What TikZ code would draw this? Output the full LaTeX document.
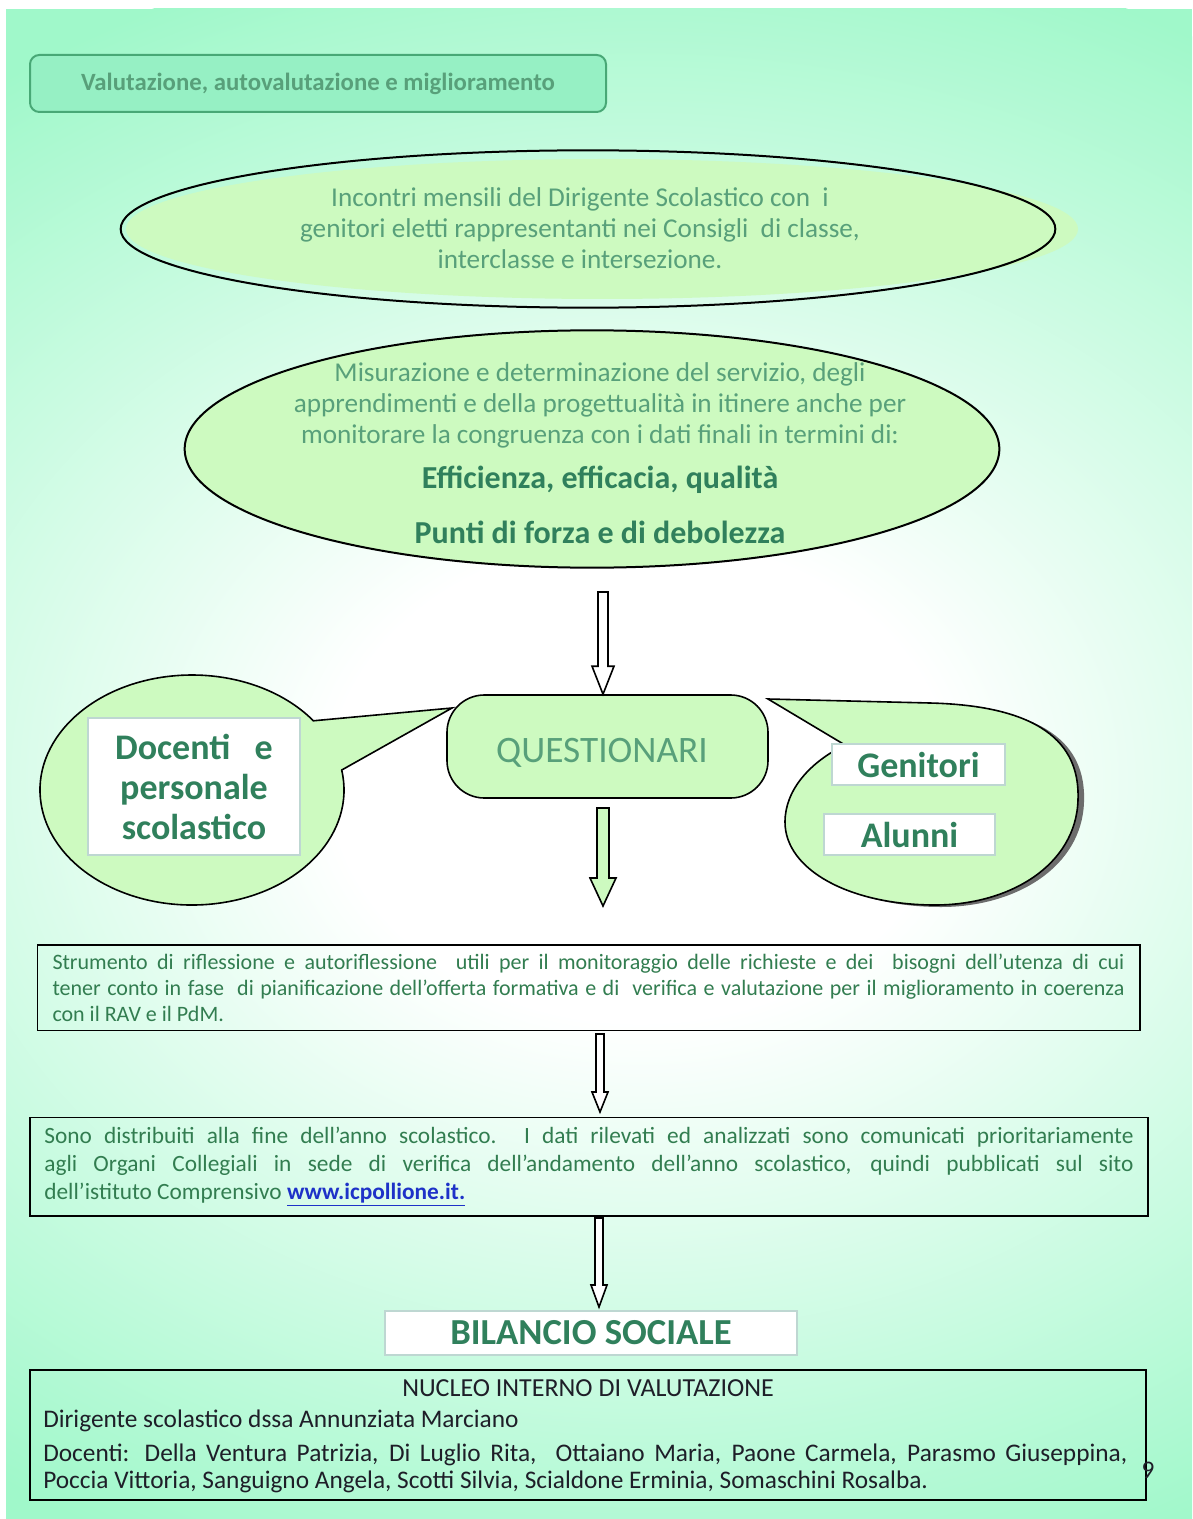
\documentclass[tikz,border=0pt]{standalone}
\usepackage{fontspec}
\setmainfont{Carlito}
\usetikzlibrary{shapes.geometric,calc}

\definecolor{bgmint}{RGB}{160,248,202}
\definecolor{bubblegreen}{RGB}{205,250,192}
\definecolor{titlefill}{RGB}{150,240,196}
\definecolor{titleline}{RGB}{72,168,118}
\definecolor{softgreen}{RGB}{88,160,122}
\definecolor{deepgreen}{RGB}{48,128,92}
\definecolor{boxgreen}{RGB}{50,125,80}
\definecolor{labelframe}{RGB}{190,215,210}
\definecolor{linkblue}{RGB}{30,50,200}
\definecolor{inkdark}{RGB}{30,30,40}

\pgfdeclareradialshading{bgglow}{\pgfpoint{0bp}{0bp}}{color(0bp)=(white); color(7bp)=(white); color(25bp)=(bgmint); color(50bp)=(bgmint)}

\tikzset{
  hollowarr/.style n args={3}{to path={
    ($(\tikztostart)+(-#1,0)$) -- ($(\tikztotarget)+(-#1,-#3)$) -- ($(\tikztotarget)+(-#2,-#3)$)
    -- (\tikztotarget) -- ($(\tikztotarget)+(#2,-#3)$) -- ($(\tikztotarget)+(#1,-#3)$)
    -- ($(\tikztostart)+(#1,0)$) -- cycle}},
  softtext/.style={align=center, text=softgreen, inner sep=0.75pt, font=\fontsize{20.4}{23.2}\selectfont},
  headtext/.style={text=deepgreen, inner sep=0.75pt, font=\fontsize{24}{28}\selectfont\bfseries},
  tagbox/.style={fill=white, draw=labelframe, line width=1.5pt, align=center, text=deepgreen,
    font=\fontsize{27}{30}\selectfont\bfseries},
  notebox/.style={draw, line width=1pt, align=justify, text=boxgreen, inner sep=0.75pt},
  inktext/.style={text=inkdark, inner sep=0.75pt, font=\fontsize{19}{20.25}\selectfont}
}

\begin{document}
\begin{tikzpicture}[x=0.75pt,y=0.75pt,yscale=-1,xscale=1]
\useasboundingbox (0,0) rectangle (1192,1519);

%Background
\fill[white] (0,0) rectangle (1192,1519);
\begin{scope}
\clip (6,9) rectangle (1192,1519);
\fill[bgmint] (6,9) rectangle (1192,1519);
\shade[shading=bgglow] (640,780) ellipse [x radius=1100, y radius=860];
\end{scope}

%Rounded Rect
\node[draw=titleline, fill=titlefill, line width=1.5pt, rounded corners=7pt, minimum width=432pt, minimum height=42.75pt,
  text=softgreen, font=\fontsize{18.6}{20}\selectfont\bfseries] (title) at (318,83.5) {Valutazione, autovalutazione e miglioramento};

%Shape: Ellipse
\fill[bubblegreen] (602,229) ellipse [x radius=476, y radius=70];
\node[draw, ellipse, line width=1.5pt, minimum width=701pt, minimum height=118pt] (meet) at (588,229) {};
% Text Node
\node[softtext] (meettxt) at (580,228) {Incontri mensili del Dirigente Scolastico con\ \ i\\genitori eletti rappresentanti nei Consigli\ \ di classe,\\interclasse e intersezione.};

%Shape: Ellipse
\node[draw, ellipse, fill=bubblegreen, line width=1.5pt, minimum width=611pt, minimum height=178pt] (measure) at (592,449) {};
% Text Node
\node[softtext] (measuretxt) at (600,405) {Misurazione e determinazione del servizio, degli\\apprendimenti e della progettualità in itinere anche per\\monitorare la congruenza con i dati finali in termini di:};
% Text Node
\node[headtext] (quality) at (600,480) {Efficienza, efficacia, qualità};
% Text Node
\node[headtext] (strength) at (600,532) {Punti di forza e di debolezza};

%Rounded Rect
\node[draw, fill=bubblegreen, line width=1.2pt, rounded corners=28pt, minimum width=240.75pt, minimum height=77.25pt] (quest) at (607.5,746.5) {};
% Text Node
\node[text=softgreen, inner sep=0.75pt, font=\fontsize{28}{30}\selectfont] (questtxt) at (602,753) {QUESTIONARI};

%Shape: Callout left
\draw[line width=1.2pt, fill=bubblegreen] (452,708) -- ($(192,790)+(-10:152 and 115)$)
  arc[start angle=-10, end angle=323, x radius=152, y radius=115] -- cycle;
\node[tagbox, minimum width=159pt, minimum height=103pt] (staff) at (194,786.5) {Docenti\ \ \ e\\personale\\scolastico};

%Shape: Callout right
\fill[gray!85!black, shift={(6,2)}] (768,699) -- (930,703) .. controls (1050,706) and (1080,750) .. (1078,800)
  .. controls (1076,865) and (1010,905) .. (935,905) .. controls (850,905) and (785,870) .. (785,822)
  .. controls (785,790) and (810,762) .. (845,745) -- cycle;
\draw[line width=1.2pt, fill=bubblegreen] (768,699) -- (930,703) .. controls (1050,706) and (1080,750) .. (1078,800)
  .. controls (1076,865) and (1010,905) .. (935,905) .. controls (850,905) and (785,870) .. (785,822)
  .. controls (785,790) and (810,762) .. (845,745) -- cycle;
\node[tagbox, minimum width=130pt, minimum height=31pt] (parents) at (918.5,764.5) {Genitori};
\node[tagbox, minimum width=128pt, minimum height=31pt] (pupils) at (909.5,834.5) {Alunni};

% Text Node
\node[notebox, minimum width=827pt, minimum height=64pt, text width=804pt, font=\fontsize{16.5}{19.5}\selectfont] (tool) at (588.5,987.5)
  {Strumento di riflessione e autoriflessione\ \ utili per il monitoraggio delle richieste e dei\ \ bisogni dell’utenza di cui\linebreak
   tener conto in fase\ \ di pianificazione dell’offerta formativa e di\ \ verifica e valutazione per il miglioramento in coerenza\linebreak
   con il RAV e il PdM.};

% Text Node
\node[notebox, minimum width=838.5pt, minimum height=74pt, text width=817pt, font=\fontsize{17.5}{21}\selectfont] (publish) at (589,1166.5)
  {Sono distribuiti alla fine dell’anno scolastico. I dati rilevati ed analizzati sono comunicati prioritariamente\linebreak
   agli Organi Collegiali in sede di verifica dell’andamento dell’anno scolastico, quindi pubblicati sul sito\linebreak
   dell’istituto Comprensivo \textcolor{linkblue}{\bfseries\underline{www.icpollione.it.}}};

% Text Node
\node[tagbox, minimum width=309pt, minimum height=33pt, font=\fontsize{27.5}{30}\selectfont\bfseries] (report) at (591,1333) {BILANCIO SOCIALE};

%Rect
\node[draw, line width=1.2pt, minimum width=837pt, minimum height=97.5pt] (niv) at (588,1435) {};
% Text Node
\node[inktext, font=\fontsize{19.5}{21}\selectfont] (nivhead) at (588,1388) {NUCLEO INTERNO DI VALUTAZIONE};
% Text Node
\node[inktext, anchor=west] (nivhead2) at (42,1421) {Dirigente scolastico dssa Annunziata Marciano};
% Text Node
\node[inktext, anchor=north west, text width=813pt, align=justify] (nivstaff) at (42,1443)
  {Docenti: Della Ventura Patrizia, Di Luglio Rita,\ \ Ottaiano Maria, Paone Carmela, Parasmo Giuseppina,\linebreak
   Poccia Vittoria, Sanguigno Angela, Scotti Silvia, Scialdone Erminia, Somaschini Rosalba.};
% Text Node
\node[inktext, font=\fontsize{19}{20}\selectfont] (pagenum) at (1148,1470) {9};

%Shape: Down Arrows
\coordinate (a1s) at (603,592);
\coordinate (a1e) at (a1s |- quest.north);
\draw[line width=1.2pt, fill=white, hollowarr={5}{11}{28}] (a1s) to (a1e);

\coordinate (a2s) at (603,808);
\coordinate (a2e) at (603,906);
\fill[gray!60, shift={(3,3)}, hollowarr={6}{13}{28}] (a2s) to (a2e);
\draw[line width=1.2pt, fill=bubblegreen, hollowarr={6}{13}{28}] (a2s) to (a2e);

\coordinate (a3s) at (600,1034);
\coordinate (a3e) at (600,1112);
\draw[line width=1.2pt, fill=white, hollowarr={4}{8}{20}] (a3s) to (a3e);

\coordinate (a4s) at (599,1218);
\coordinate (a4e) at (599,1307);
\draw[line width=1.2pt, fill=white, hollowarr={4}{8}{22}] (a4s) to (a4e);

\end{tikzpicture}
\end{document}
